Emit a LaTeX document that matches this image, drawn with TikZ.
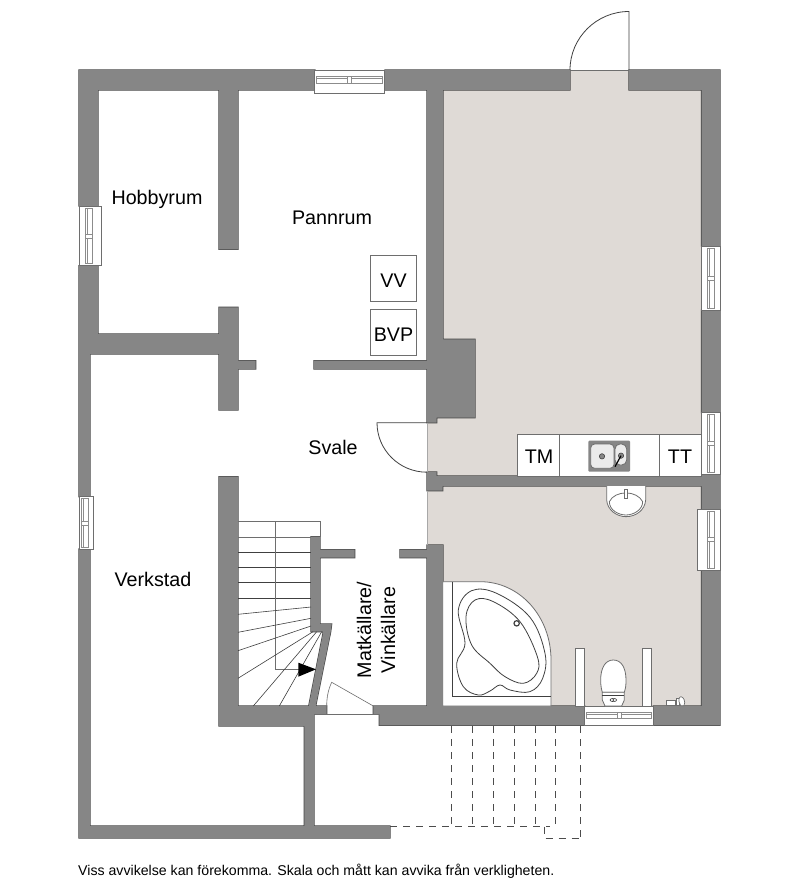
\documentclass[tikz,border=0pt]{standalone}
\usepackage{fontspec}
\setmainfont{Liberation Sans}
\definecolor{wallc}{HTML}{868686}
\definecolor{walledge}{HTML}{444444}
\definecolor{floorc}{HTML}{DFDAD6}
\definecolor{thinc}{HTML}{6E6E6E}
\definecolor{glassc}{HTML}{8C8C8C}
\tikzset{
  x=1pt,y=-1pt,
  wallline/.style={draw=walledge,line width=1.2pt},
  wallfill/.style={fill=wallc},
  floorarea/.style={fill=floorc},
  thin line/.style={draw=thinc,line width=0.6pt},
  glass line/.style={draw=glassc,line width=0.5pt},
  fixture/.style={draw=thinc,line width=0.8pt,fill=white},
  darkline/.style={draw=black!75,line width=0.8pt},
  dashline/.style={draw=black!70,line width=0.6pt,dash pattern=on 7pt off 6pt},
  room/.style={font=\fontsize{19.7}{24}\selectfont,text=black,inner sep=0pt},
  foot/.style={font=\fontsize{14.15}{17}\selectfont,text=black,inner sep=0pt,anchor=west},
}
\newcommand{\wallpath}{
  (79,70) rectangle (315,90) (385,70) rectangle (570,90) (629,70) rectangle (720,90)
  (79,70) rectangle (98,206) (79,265.7) rectangle (98,354)
  (79,334) rectangle (238,354)
  (79,334) rectangle (90,496.7) (79,549) rectangle (90,838)
  (79,826) rectangle (390,838)
  (219,90) rectangle (238,249.3) (219,307.3) rectangle (238,410)
  (238,360.7) rectangle (255.7,369) (314,360.7) rectangle (427,369)
  (427,90) -- (443,90) -- (443,339.3) -- (475,339.3) -- (475,417.7) -- (436.7,417.7) -- (436.7,422.7) -- (427,422.7) -- cycle
  (427,472) -- (436.7,472) -- (436.7,476) -- (701.5,476) -- (701.5,486) -- (442.7,486) -- (442.7,490.7) -- (427,490.7) -- cycle
  (701.5,70) rectangle (720,246) (701.5,310) rectangle (720,412.7)
  (701.5,474) rectangle (720,509.3) (701.5,570) rectangle (720,725.3)
  (653.3,706) rectangle (720,725.3)
  (373.3,706) -- (584.7,706) -- (584.7,725.3) -- (379.3,725.3) -- (379.3,714) -- (373.3,714) -- cycle
  (427,545) rectangle (443,706) (400,549.7) rectangle (427,557.7)
  (219,476.7) rectangle (238,726) (219,706) rectangle (304.3,726)
  (304.3,706) rectangle (314,838) (304.3,706) rectangle (326.7,714)
  (311,536.7) -- (320,536.7) -- (320,624) -- (331.7,624) -- (330.7,631.7) -- (315.7,706) -- (308.7,706) -- (323.3,631.7) -- (311,631.7) -- cycle
  (320,549.7) rectangle (354.7,557.7)
}
% horizontal window: x0 x1 y0 y1 glass-top glass-bottom
\newcommand{\winH}[6]{
  \draw[thin line,fill=white] (#1,#3) rectangle (#2,#4);
  \draw[glass line] (#1+2,#5) rectangle (#2-2,#6);
  \draw[glass line] (#1+2,#5+1.8) -- (#2-2,#5+1.8);
  \draw[glass line,fill=white] ({(#1+#2)/2-2},#5) rectangle ({(#1+#2)/2+2},#6);
}
% vertical window: x0 x1 y0 y1 glass-left glass-right
\newcommand{\winV}[6]{
  \draw[thin line,fill=white] (#1,#3) rectangle (#2,#4);
  \draw[glass line] (#5,#3+2) rectangle (#6,#4-2);
  \draw[glass line] (#5+1.8,#3+2) -- (#5+1.8,#4-2);
  \draw[glass line,fill=white] (#5,{(#3+#4)/2-2}) rectangle (#6,{(#3+#4)/2+2});
}
\begin{document}
\begin{tikzpicture}
\useasboundingbox (0,0) rectangle (800,893);
\fill[white] (0,0) rectangle (800,893);
% floors
\fill[floorarea] (427,90) rectangle (701.5,478);
\fill[floorarea] (570,70) rectangle (629,92);
\fill[floorarea] (427,484) rectangle (701.5,706);
% walls: outline first, then fill over so only outer edges remain
\path[wallline] \wallpath;
\path[wallfill] \wallpath;
% thresholds
\draw[thin line] (570,70) -- (629,70);
\draw[draw=thinc!60,line width=0.5pt] (427,422.7) -- (427,472) (427,490.7) -- (427,545);
% top door
\draw[darkline] (629,70) -- (629,11.5) .. controls (596.4,11.5) and (570,37.9) .. (570,70);
% Svale door
\draw[darkline] (427,422.7) -- (377,422.7) .. controls (377,450) and (399.3,472.2) .. (427,472.2);
% windows
\winH{314.3}{384.7}{70}{93}{76.7}{83.3}
\winH{584.7}{653.3}{706}{725.3}{712.7}{718.7}
\winV{79}{101.7}{206}{265.7}{85}{92.3}
\winV{79}{93}{496.7}{549}{81.5}{88.5}
\winV{701.5}{720}{246}{310}{707.3}{714}
\winV{701.5}{720}{412.7}{474}{707.3}{714}
\winV{697.7}{720}{509.3}{570}{707.3}{714}
% boxes
\draw[thin line,fill=white] (370.7,255.7) rectangle (416.3,301.5);
\draw[thin line,fill=white] (370.7,309.3) rectangle (416.3,355);
% kitchen counter
\draw[thin line,fill=white] (517.3,434.3) rectangle (701.5,476);
\draw[thin line] (559.7,434.3) -- (559.7,476) (659,434.3) -- (659,476);
\begin{scope}[shift={(420,330)},scale=1/3]
  \fill[wallc,rounded corners=1pt] (505,332) rectangle (630,425);
  \draw[fixture,fill=white!92!black,rounded corners=4pt] (512,342) rectangle (582,415);
  \draw[fixture,fill=white!92!black,rounded corners=5pt] (585,342) rectangle (620,405);
  \draw[darkline,line width=0.6pt,fill=wallc] (546,379) circle[radius=8];
  \draw[darkline,line width=0.6pt,fill=wallc] (603,377) circle[radius=8];
  \draw[black,line width=1.2pt] (603,377) -- (585,410);
  % washbasin
  \draw[fixture] (560,468) -- (560,510) .. controls (562,540) and (590,560) .. (618,560) .. controls (648,560) and (675,540) .. (677,510) -- (677,468);
  \draw[fixture] (568,515) .. controls (585,480) and (650,480) .. (668,515) .. controls (668,540) and (640,555) .. (618,555) .. controls (595,555) and (568,540) .. (568,515) -- cycle;
  \draw[fixture] (612,478) rectangle (623,505);
\end{scope}
% bathroom fixtures
\begin{scope}[shift={(430,560)},scale=1/3]
  \draw[fixture] (38,65) -- (150,65) .. controls (270,65) and (363,170) .. (363,300) -- (363,438) -- (38,438) -- cycle;
  \draw[darkline] (68,65) -- (68,408) -- (363,408);
  \draw[darkline] plot[smooth cycle,tension=0.62] coordinates {(85,150) (125,92) (200,100) (300,172) (345,280) (338,355) (300,395) (240,390) (210,375) (180,393) (145,405) (100,380) (80,310) (105,250)};
  \draw[darkline] plot[smooth cycle,tension=0.62] coordinates {(108,170) (135,120) (190,125) (270,185) (322,290) (320,340) (280,370) (225,350) (180,310) (125,255)};
  \draw[black!75,line width=1.2pt,fill=white] (260,190) circle[radius=8];
  % partitions
  \draw[thin line,fill=white] (437,265) rectangle (463,438);
  \draw[thin line,fill=white] (637,265) rectangle (663,438);
  % toilet
  \draw[fixture] (550,300) .. controls (525,300) and (512,325) .. (512,360) .. controls (512,380) and (515,390) .. (517,397) -- (583,397) .. controls (586,388) and (588,380) .. (588,360) .. controls (588,325) and (575,300) .. (550,300) -- cycle;
  \draw[fixture] (517,397) -- (583,397) -- (583,420) -- (575,438) -- (525,438) -- (517,420) -- cycle;
  \draw[darkline,line width=0.6pt] (517,406) -- (583,406);
  \draw[darkline,line width=0.6pt] (550,420) ellipse[x radius=10,y radius=5];
  \fill[black!70] (550,420) circle[radius=3];
  % small fixture
  \draw[fixture,line width=0.7pt] (710,420) rectangle (735,435);
  \draw[fixture,line width=0.7pt] (738,415) rectangle (748,437);
  \draw[fixture,line width=0.7pt] (752,437) .. controls (742,420) and (748,410) .. (753,410) .. controls (760,410) and (768,425) .. (762,437) -- cycle;
\end{scope}
% stairs
\draw[thin line] (238,521.7) -- (320,521.7) -- (320,536.7);
\draw[thin line] (238,537) -- (311,537);
\foreach \yy in {552,567.7,582.7,598}{\draw[darkline,line width=0.6pt] (238,\yy) -- (311,\yy);}
\draw[thin line] (275,521.7) -- (275,669.5) -- (300,669.5);
\draw[darkline,line width=0.6pt]
  (238,614.3) -- (311,607)
  (238,632.3) -- (311,618.3)
  (238,650.7) -- (311,626)
  (238,678.3) -- (313,631.7)
  (253.3,706) -- (316.7,631.7)
  (279.3,706) -- (321.7,631.7);
\fill[black] (298.3,662.7) -- (316,669.3) -- (298.3,676.7) -- cycle;
% cellar door
\draw[thin line] (373.3,706) -- (331.7,682.3) .. controls (328,690) and (326.7,698) .. (326.7,706);
\draw[thin line] (314,714) -- (379.3,714);
% dashed
\foreach \xx in {451,472,493,514,535}{\draw[dashline] (\xx,726) -- (\xx,826.5);}
\draw[dashline] (555.5,726) -- (555.5,827);
\draw[dashline] (580,726) -- (580,838);
\draw[dashline] (390,826.5) -- (550,826.5);
\draw[dashline] (544,826.5) -- (544,838) -- (580,838);
% labels
\node[room] (hobby) at (157,199.5) {Hobbyrum};
\node[room] (pann) at (332,218) {Pannrum};
\node[room] (vv) at (393.5,281) {VV};
\node[room] (bvp) at (393.5,335) {BVP};
\node[room] (svale) at (333,447) {Svale};
\node[room] (verk) at (153,579.5) {Verkstad};
\node[room] (tm) at (539,457) {TM};
\node[room] (tt) at (680,457) {TT};
\node[room,rotate=90,align=center] (mat) at (376,630) {Matkällare/\\Vinkällare};
\node[foot] (note) at (78,871.5) {Viss avvikelse kan förekomma. Skala och mått kan avvika från verkligheten.};
\end{tikzpicture}
\end{document}
